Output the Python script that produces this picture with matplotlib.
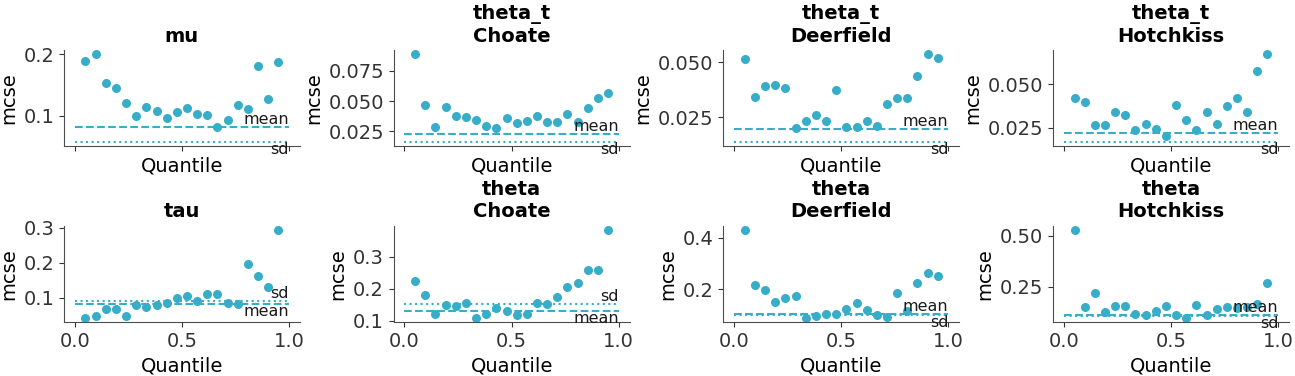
import numpy as np
import matplotlib
matplotlib.use("Agg")
import matplotlib.pyplot as plt

quantiles = np.linspace(0.05, 0.95, 20)

titles = ["mu", "theta_t\nChoate", "theta_t\nDeerfield", "theta_t\nHotchkiss",
          "tau", "theta\nChoate", "theta\nDeerfield", "theta\nHotchkiss"]

mcse_mu = [0.1885, 0.200, 0.1525, 0.1443, 0.1213, 0.100, 0.1148, 0.1071, 0.0967, 0.1055,
           0.1131, 0.1033, 0.1016, 0.082, 0.0923, 0.118, 0.1115, 0.1803, 0.1279, 0.1869]
mcse_theta_t_choate = [0.0887, 0.0464, 0.0282, 0.0448, 0.0373, 0.0365, 0.0343, 0.0296, 0.0273, 0.0356,
                       0.0315, 0.0334, 0.0373, 0.0323, 0.0323, 0.0390, 0.0323, 0.0439, 0.0522, 0.0566]
mcse_theta_t_deerfield = [0.0514, 0.0341, 0.0391, 0.0397, 0.0382, 0.0200, 0.0235, 0.0259, 0.0235, 0.0373,
                          0.0205, 0.0205, 0.0235, 0.0209, 0.0309, 0.0336, 0.0336, 0.0436, 0.0536, 0.0518]
mcse_theta_t_hotchkiss = [0.0419, 0.0401, 0.0267, 0.0267, 0.0343, 0.0326, 0.0234, 0.0273, 0.0244, 0.0203,
                          0.0384, 0.0297, 0.0234, 0.0343, 0.0273, 0.0378, 0.0419, 0.0343, 0.0576, 0.0674]
mcse_tau = [0.0438, 0.0486, 0.0695, 0.0695, 0.0486, 0.080, 0.0743, 0.080, 0.0857, 0.100,
            0.1057, 0.0914, 0.1114, 0.1114, 0.0857, 0.0829, 0.198, 0.1629, 0.1314, 0.2943]
mcse_theta_choate = [0.225, 0.1813, 0.1219, 0.150, 0.1469, 0.1563, 0.1094, 0.1219, 0.1406, 0.1313,
                     0.1188, 0.1219, 0.1563, 0.1531, 0.175, 0.2063, 0.2188, 0.2573, 0.2594, 0.3844]
mcse_theta_deerfield = [0.4314, 0.2157, 0.1961, 0.149, 0.1647, 0.1725, 0.0889, 0.0941, 0.102, 0.102,
                        0.1216, 0.1475, 0.119, 0.099, 0.090, 0.187, 0.115, 0.226, 0.2627, 0.251]
mcse_theta_hotchkiss = [0.5294, 0.152, 0.2206, 0.1275, 0.1569, 0.1569, 0.1176, 0.1127, 0.1324, 0.1569,
                        0.1127, 0.098, 0.158, 0.109, 0.142, 0.150, 0.145, 0.148, 0.165, 0.270]

mean_mcse = [0.0809, 0.0229, 0.0198, 0.0219, 0.0819, 0.130, 0.1035, 0.112]
sd_mcse = [0.0568, 0.0160, 0.0138, 0.0167, 0.0905, 0.151, 0.1005, 0.108]

series = [mcse_mu, mcse_theta_t_choate, mcse_theta_t_deerfield, mcse_theta_t_hotchkiss,
          mcse_tau, mcse_theta_choate, mcse_theta_deerfield, mcse_theta_hotchkiss]

y_ticks = [[0.1, 0.2], [0.025, 0.050, 0.075], [0.025, 0.050], [0.025, 0.050],
           [0.1, 0.2, 0.3], [0.1, 0.2, 0.3], [0.2, 0.4], [0.25, 0.50]]
y_ticklabels = [["0.1", "0.2"], ["0.025", "0.050", "0.075"], ["0.025", "0.050"], ["0.025", "0.050"],
                ["0.1", "0.2", "0.3"], ["0.1", "0.2", "0.3"], ["0.2", "0.4"], ["0.25", "0.50"]]
x_ticks = [0.0, 0.5, 1.0]
x_ticklabels = ["0.0", "0.5", "1.0"]

color = "#38adc8"
W, H = 1295, 376
fig, axes = plt.subplots(2, 4, figsize=(W / 100, H / 100), dpi=100, sharex=True)
fig.subplots_adjust(left=0.0494, right=0.9953, bottom=0.1436, top=0.867,
                    wspace=0.398, hspace=0.82)

tick_fs = 14
label_fs = 14
title_fs = 14
ann_fs = 11.5

for ax, title, vals, m, s, yt, ytl in zip(axes.flat, titles, series, mean_mcse, sd_mcse,
                                          y_ticks, y_ticklabels):
    ax.plot(quantiles, vals, "o", color=color, markersize=6.5, markeredgewidth=0)
    ax.plot([0, 1], [m, m], linestyle="--", color=color, lw=1.5)
    ax.plot([0, 1], [s, s], linestyle=":", color=color, lw=1.5)
    if m >= s:
        ax.text(1, m, "mean", ha="right", va="bottom", fontsize=ann_fs, color="0.1")
        ax.text(1, s, "sd", ha="right", va="top", fontsize=ann_fs, color="0.1")
    else:
        ax.text(1, s, "sd", ha="right", va="bottom", fontsize=ann_fs, color="0.1")
        ax.text(1, m, "mean", ha="right", va="top", fontsize=ann_fs, color="0.1")
    ax.set_title(title, fontsize=title_fs, fontweight="bold")
    ax.set_xlabel("Quantile", fontsize=label_fs)
    ax.set_ylabel("mcse", fontsize=label_fs)
    ax.tick_params(labelsize=tick_fs, colors="0.2")
    for sp in ("top", "right"):
        ax.spines[sp].set_visible(False)
    for sp in ("left", "bottom"):
        ax.spines[sp].set_color("0.3")
    ax.set_xticks(x_ticks, x_ticklabels)
    ax.set_yticks(yt, ytl)

for ax in axes[0]:
    ax.tick_params(labelbottom=False)

fig.savefig("out.png", dpi=100)
